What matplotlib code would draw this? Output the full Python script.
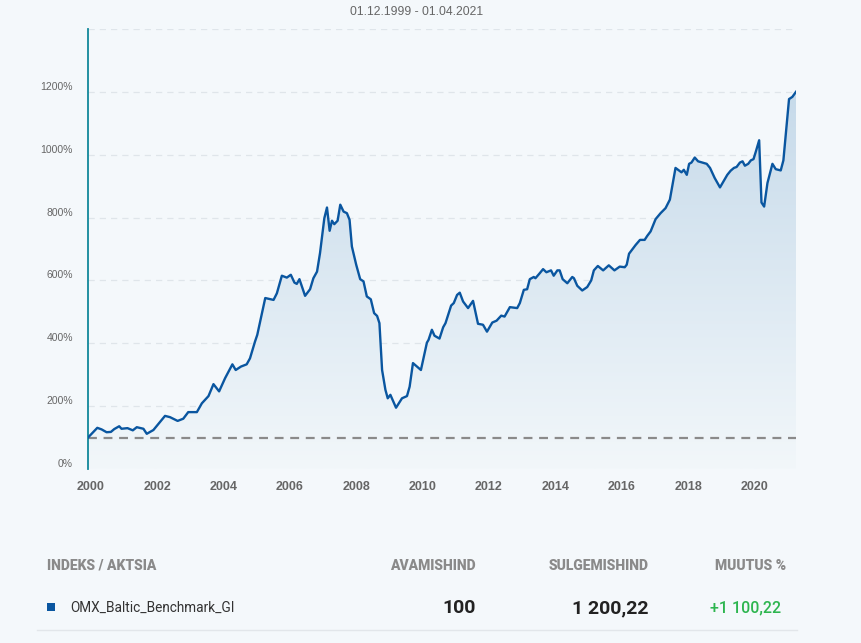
import matplotlib.pyplot as plt
import numpy as np
from matplotlib.colors import LinearSegmentedColormap
from matplotlib.patches import PathPatch
from matplotlib.path import Path
from matplotlib import transforms

# index level (start = 100)
dates = [1999.92, 2000.20, 2000.33, 2000.48, 2000.61, 2000.71, 2000.86, 2000.93, 2001.11, 2001.27,
         2001.39, 2001.59, 2001.69, 2001.89, 2002.24, 2002.39, 2002.62, 2002.79, 2002.94, 2003.20,
         2003.35, 2003.55, 2003.70, 2003.87, 2004.05, 2004.27, 2004.37, 2004.53, 2004.70, 2004.80,
         2004.95, 2005.02, 2005.26, 2005.51, 2005.61, 2005.76, 2005.91, 2006.03, 2006.14, 2006.21,
         2006.29, 2006.46, 2006.61, 2006.71, 2006.82, 2006.91, 2007.04, 2007.12, 2007.20, 2007.27,
         2007.34, 2007.44, 2007.52, 2007.62, 2007.72, 2007.80, 2007.87, 2008.00, 2008.12, 2008.22,
         2008.32, 2008.44, 2008.54, 2008.63, 2008.70, 2008.78, 2008.88, 2008.95, 2009.03, 2009.20,
         2009.38, 2009.53, 2009.61, 2009.71, 2009.95, 2010.13, 2010.18, 2010.28, 2010.36, 2010.51,
         2010.62, 2010.69, 2010.86, 2010.94, 2011.04, 2011.12, 2011.22, 2011.37, 2011.52, 2011.67,
         2011.82, 2011.94, 2012.10, 2012.23, 2012.37, 2012.47, 2012.63, 2012.85, 2012.93, 2013.05,
         2013.15, 2013.23, 2013.35, 2013.40, 2013.53, 2013.63, 2013.73, 2013.87, 2013.95, 2014.06,
         2014.13, 2014.22, 2014.36, 2014.51, 2014.56, 2014.66, 2014.81, 2014.96, 2015.08, 2015.16,
         2015.28, 2015.44, 2015.61, 2015.78, 2015.94, 2016.09, 2016.15, 2016.22, 2016.35, 2016.42,
         2016.55, 2016.69, 2016.77, 2016.87, 2017.02, 2017.17, 2017.32, 2017.45, 2017.62, 2017.72,
         2017.80, 2017.87, 2017.96, 2018.03, 2018.10, 2018.20, 2018.30, 2018.43, 2018.56, 2018.66,
         2018.80, 2018.96, 2019.08, 2019.18, 2019.28, 2019.38, 2019.46, 2019.56, 2019.64, 2019.71,
         2019.81, 2019.89, 2019.97, 2020.04, 2020.14, 2020.21, 2020.29, 2020.39, 2020.54, 2020.64,
         2020.79, 2020.87, 2021.04, 2021.14, 2021.25]
values = [100, 131, 126, 117, 118, 127, 136, 128, 130, 123,
          133, 128, 112, 124, 169, 165, 153, 160, 181, 181,
          209, 232, 270, 247, 289, 333, 315, 326, 333, 352,
          405, 427, 544, 538, 559, 615, 609, 618, 593, 589,
          604, 551, 572, 607, 628, 687, 798, 832, 758, 790,
          779, 790, 841, 819, 814, 793, 708, 650, 604, 597,
          549, 540, 496, 487, 464, 315, 252, 225, 236, 195,
          225, 232, 262, 337, 315, 402, 411, 443, 424, 415,
          451, 464, 520, 528, 554, 561, 533, 512, 535, 462,
          459, 437, 466, 472, 488, 485, 515, 512, 528, 570,
          572, 604, 611, 607, 623, 636, 626, 632, 615, 632,
          632, 604, 591, 611, 607, 583, 568, 579, 600, 632,
          646, 632, 648, 632, 644, 642, 650, 685, 703, 713,
          729, 729, 742, 756, 795, 814, 830, 857, 958, 950,
          944, 952, 936, 971, 975, 991, 979, 975, 971, 958,
          926, 896, 918, 936, 949, 958, 961, 975, 979, 965,
          971, 982, 986, 1010, 1046, 848, 835, 910, 971, 954,
          950, 982, 1177, 1184, 1200.22]

year_ticks = [2000, 2002, 2004, 2006, 2008, 2010, 2012, 2014, 2016, 2018, 2020]
pct_ticks = [0, 200, 400, 600, 800, 1000, 1200]
grid_levels = [0, 200, 400, 600, 800, 1000, 1200, 1400]
base_level = 100

period = '01.12.1999 - 01.04.2021'
table_headers = ['INDEKS / AKTSIA', 'AVAMISHIND', 'SULGEMISHIND', 'MUUTUS %']
row_name = 'OMX_Baltic_Benchmark_GI'
row_open = '100'
row_close = '1 200,22'
row_change = '+1 100,22'

W, H = 861, 643
bg = '#f4f8fb'
line_col = '#0a56a0'

fig = plt.figure(figsize=(W / 100, H / 100), dpi=100, facecolor=bg)
ax = fig.add_axes([88 / W, 1 - 469 / H, (796 - 88) / W, (469 - 29) / H])
ax.set_facecolor(bg)

x0, x1 = dates[0], dates[-1]
ax.set_xlim(x0, x1)
ax.set_ylim(0, 1400)

for g in grid_levels:
    ax.axhline(g, color='#dfe5ea', lw=0.9, ls=(0, (5, 4)), zorder=0)

# gradient fill under the line
cmap = LinearSegmentedColormap.from_list('fill', ['#f2f7fa', '#c3d8e9'])
grad = np.linspace(0, 1, 256).reshape(-1, 1)
im = ax.imshow(grad, cmap=cmap, aspect='auto', origin='lower',
               extent=[x0, x1, 0, 1300], zorder=1, interpolation='bilinear')
poly = np.vstack([[x0, 0], np.column_stack([dates, values]), [x1, 0]])
patch = PathPatch(Path(poly), facecolor='none', edgecolor='none', transform=ax.transData)
ax.add_patch(patch)
im.set_clip_path(patch)
ax.set_ylim(0, 1400)

ax.axhline(base_level, color='#8a8a8a', lw=1.6, ls=(0, (4, 3)), zorder=2)
ax.plot(dates, values, color=line_col, lw=1.7, zorder=3, solid_joinstyle='round')

for s in ['top', 'right', 'bottom']:
    ax.spines[s].set_visible(False)
ax.spines['left'].set_color('#11889a')
ax.spines['left'].set_linewidth(1.3)

ax.set_xticks(year_ticks)
ax.set_xticklabels([str(y) for y in year_ticks], fontfamily='Liberation Sans',
                   fontweight='bold', fontsize=9, color='#666666')
ax.tick_params(axis='x', length=0, pad=9)
ax.set_yticks([])

lbl_tr = transforms.offset_copy(transforms.blended_transform_factory(ax.transAxes, ax.transData),
                                fig=fig, x=-15, y=5, units='dots')
for p in pct_ticks:
    ax.text(0, p, f'{p}%', transform=lbl_tr, ha='right', va='center',
            fontfamily='Liberation Sans', fontsize=7.5, color='#666666')

fig.text(417 / W, 1 - 12 / H, period, ha='center', va='center',
         fontfamily='Liberation Sans', fontsize=8.7, color='#666666')

# table below the chart
hy = 1 - 566 / H
ry = 1 - 608 / H
hdr = dict(fontfamily='Roboto', fontweight='heavy', fontsize=10, color='#8a8a8a', va='center')
fig.text(47 / W, hy, table_headers[0], ha='left', **hdr)
fig.text(476 / W, hy, table_headers[1], ha='right', **hdr)
fig.text(649 / W, hy, table_headers[2], ha='right', **hdr)
fig.text(786 / W, hy, table_headers[3], ha='right', **hdr)

fig.patches.append(plt.Rectangle((47 / W, 1 - 611 / H), 8 / W, 8 / H, transform=fig.transFigure,
                                 facecolor=line_col, edgecolor='none'))
fig.text(70 / W, ry, row_name, ha='left', va='center', fontfamily='Roboto',
         fontsize=9.8, color='#333333')
big = dict(fontfamily='Roboto', fontweight='bold', fontsize=14, color='#222222', va='center')
fig.text(476 / W, ry, row_open, ha='right', **big)
fig.text(649 / W, ry, row_close, ha='right', **big)
fig.text(781 / W, ry, row_change, ha='right', va='center', fontfamily='Roboto',
         fontsize=11.5, fontweight='medium', color='#2db54f')
fig.add_artist(plt.Line2D([37 / W, 797 / W], [1 - 630 / H] * 2, color='#e2e6ea', lw=1))

fig.savefig('out.png', dpi=100, facecolor=bg)
